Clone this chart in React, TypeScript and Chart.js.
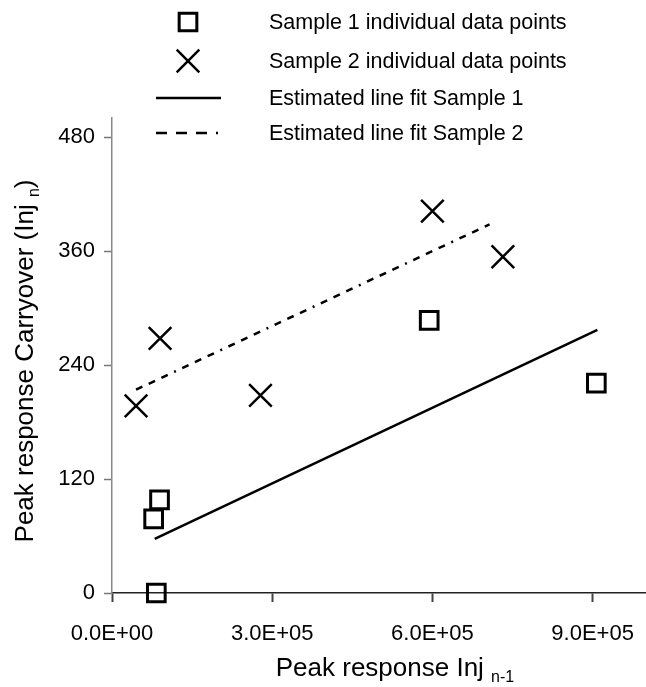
import React, { useEffect, useRef } from "react";
import { Chart, registerables } from "chart.js";
import { drawPoint } from "chart.js/helpers";

Chart.register(...registerables);

// ---- data ----
const sample1X = [83000, 78000, 89000, 594000, 907000];
const sample1Y = [0, 78, 98, 287, 221];
const sample2X = [45000, 90000, 278000, 600000, 732000];
const sample2Y = [197, 268, 208, 402, 354];
const fit1X = [80000, 909000];
const fit1Y = [57, 277];
const fit2X = [45000, 707000];
const fit2Y = [214, 388];
const xTicks = [0, 300000, 600000, 900000];
const yTicks = [0, 120, 240, 360, 480];
const seriesLabels = [
  "Sample 1 individual data points",
  "Sample 2 individual data points",
  "Estimated line fit Sample 1",
  "Estimated line fit Sample 2",
];
const xTitleParts = ["Peak response Inj ", "n-1"];
const yTitleParts = ["Peak response Carryover (Inj ", "n", ")"];

const FONT = "'Liberation Sans', Arial, sans-serif";

const toPts = (xs: number[], ys: number[]) => xs.map((x, i) => ({ x, y: ys[i] }));

const fmtExp = (v: number) => {
  const [m, e] = Number(v).toExponential(1).split("e");
  const n = parseInt(e, 10);
  return `${m}E${n < 0 ? "-" : "+"}${String(Math.abs(n)).padStart(2, "0")}`;
};

function drawSubText(ctx: CanvasRenderingContext2D, parts: string[], subIdx: number[], big: number, small: number) {
  const widths = parts.map((p, i) => {
    ctx.font = `${subIdx.includes(i) ? small : big}px ${FONT}`;
    return ctx.measureText(p).width;
  });
  const total = widths.reduce((a, b) => a + b, 0);
  let x = -total / 2;
  ctx.textAlign = "left";
  ctx.textBaseline = "alphabetic";
  parts.forEach((p, i) => {
    const sub = subIdx.includes(i);
    ctx.font = `${sub ? small : big}px ${FONT}`;
    ctx.fillText(p, x, sub ? 6 : 0);
    x += widths[i];
  });
}

const overlayPlugin = {
  id: "overlay",
  afterDraw(chart: any) {
    const ctx: CanvasRenderingContext2D = chart.ctx;
    ctx.save();
    ctx.fillStyle = "#000";
    ctx.strokeStyle = "#000";

    // legend
    const rowsY = [22, 61, 98, 133];
    const markerX = 188;
    const lineX0 = 156;
    const lineX1 = 221;
    const textX = 269;
    chart.data.datasets.forEach((ds: any, i: number) => {
      const y = rowsY[i];
      ctx.save();
      ctx.strokeStyle = "#000";
      if (ds.showLine) {
        ctx.lineWidth = ds.borderWidth;
        ctx.setLineDash(ds.legendDash || []);
        ctx.beginPath();
        ctx.moveTo(lineX0, y);
        ctx.lineTo(lineX1, y);
        ctx.stroke();
        ctx.setLineDash([]);
      } else {
        ctx.lineWidth = ds.pointBorderWidth;
        ctx.fillStyle = "rgba(0,0,0,0)";
        drawPoint(ctx, { pointStyle: ds.pointStyle, radius: ds.pointRadius, rotation: 0, borderWidth: ds.pointBorderWidth } as any, markerX, y);
      }
      ctx.restore();
      ctx.fillStyle = "#000";
      ctx.font = `21.5px ${FONT}`;
      ctx.textAlign = "left";
      ctx.textBaseline = "middle";
      ctx.fillText(ds.label, textX, y + 1);
    });

    // x title
    ctx.save();
    ctx.translate(395, 676);
    drawSubText(ctx, xTitleParts, [1], 26, 16);
    ctx.restore();

    // y title
    ctx.save();
    ctx.translate(33, 361);
    ctx.rotate(-Math.PI / 2);
    drawSubText(ctx, yTitleParts, [1], 26, 16);
    ctx.restore();

    ctx.restore();
  },
};

export default function App() {
  const ref = useRef<HTMLCanvasElement | null>(null);

  useEffect(() => {
    document.body.style.margin = "0";
    if (!ref.current) return;
    const chart = new Chart(ref.current, {
      type: "scatter",
      data: {
        datasets: [
          {
            label: seriesLabels[0],
            data: toPts(sample1X, sample1Y),
            showLine: false,
            clip: false,
            pointStyle: "rect",
            pointRadius: 12.5,
            pointHoverRadius: 12.5,
            pointBorderWidth: 3,
            pointBorderColor: "#000",
            pointBackgroundColor: "rgba(0,0,0,0)",
            borderColor: "#000",
            backgroundColor: "rgba(0,0,0,0)",
          },
          {
            label: seriesLabels[1],
            data: toPts(sample2X, sample2Y),
            showLine: false,
            clip: false,
            pointStyle: "crossRot",
            pointRadius: 16,
            pointHoverRadius: 16,
            pointBorderWidth: 2.5,
            pointBorderColor: "#000",
            borderColor: "#000",
            backgroundColor: "rgba(0,0,0,0)",
          },
          {
            label: seriesLabels[2],
            data: toPts(fit1X, fit1Y),
            showLine: true,
            clip: false,
            borderColor: "#000",
            borderWidth: 2.5,
            pointRadius: 0,
            pointHoverRadius: 0,
            fill: false,
          },
          {
            label: seriesLabels[3],
            data: toPts(fit2X, fit2Y),
            showLine: true,
            clip: false,
            borderColor: "#000",
            borderWidth: 2.5,
            borderDash: [7, 7, 7, 7, 7, 7, 2, 7],
            legendDash: [11, 9, 11, 9, 11, 9, 2, 20],
            pointRadius: 0,
            pointHoverRadius: 0,
            fill: false,
          } as any,
        ],
      },
      options: {
        responsive: false,
        animation: false,
        devicePixelRatio: 1,
        layout: { autoPadding: false, padding: { top: 118, right: 0, bottom: 0, left: 0 } },
        plugins: {
          legend: { display: false },
          tooltip: { enabled: false },
          title: { display: false },
        },
        scales: {
          x: {
            type: "linear",
            min: 0,
            max: 1000000,
            bounds: "data",
            afterBuildTicks: (s: any) => {
              s.ticks = xTicks.map((value) => ({ value }));
            },
            afterFit: (s: any) => {
              s.height = 94;
              s.paddingLeft = 0;
              s.paddingRight = 0;
            },
            ticks: {
              callback: (v: any) => fmtExp(Number(v)),
              font: { family: FONT, size: 22 },
              color: "#000",
              padding: 19,
              maxRotation: 0,
              autoSkip: false,
            },
            grid: {
              display: true,
              drawOnChartArea: false,
              drawTicks: true,
              tickLength: 9,
              tickColor: "#444",
              tickWidth: 2,
            },
            border: { display: true, color: "#222", width: 1.5 },
            title: { display: false },
          },
          y: {
            type: "linear",
            min: 0,
            max: 500,
            bounds: "data",
            afterBuildTicks: (s: any) => {
              s.ticks = yTicks.map((value) => ({ value }));
            },
            afterFit: (s: any) => {
              s.width = 112;
              s.paddingTop = 0;
              s.paddingBottom = 0;
            },
            ticks: {
              font: { family: FONT, size: 22 },
              color: "#000",
              padding: 9,
              autoSkip: false,
            },
            grid: {
              display: true,
              drawOnChartArea: false,
              drawTicks: true,
              tickLength: 8,
              tickColor: "#777",
              tickWidth: 1.5,
            },
            border: { display: true, color: "#888", width: 1.5 },
            title: { display: false },
          },
        },
      } as any,
      plugins: [overlayPlugin],
    });
    return () => chart.destroy();
  }, []);

  return <canvas ref={ref} width={646} height={687} style={{ display: "block", width: 646, height: 687 }} />;
}
